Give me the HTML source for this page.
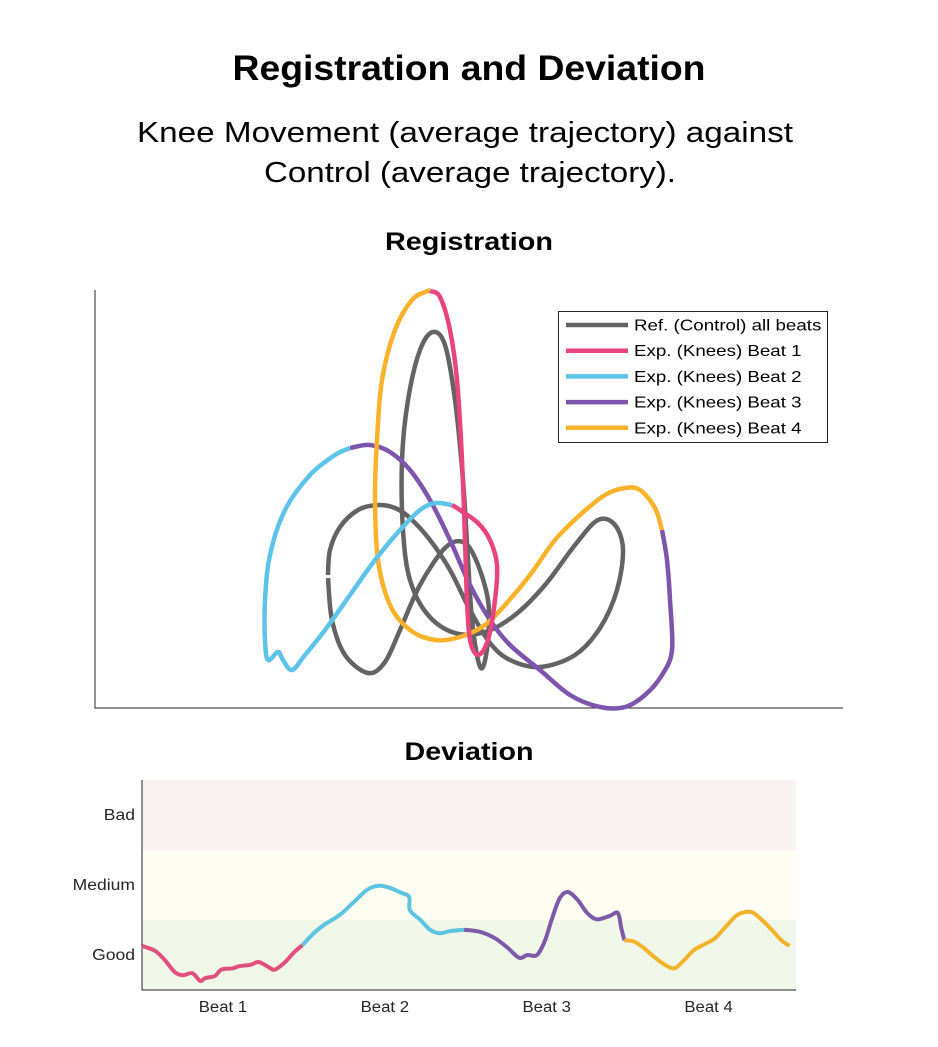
<!DOCTYPE html>
<html><head><meta charset="utf-8"><style>
body{margin:0;background:#fff;font-family:"Liberation Sans",sans-serif}
svg text{font-family:"Liberation Sans",sans-serif}
</style></head><body>
<svg id="c" width="938" height="1042" viewBox="0 0 938 1042" xmlns="http://www.w3.org/2000/svg">
<text x="469" y="80" text-anchor="middle" font-size="35" font-weight="bold" textLength="473" lengthAdjust="spacingAndGlyphs">Registration and Deviation</text>
<text x="465" y="142" text-anchor="middle" font-size="29" textLength="656" lengthAdjust="spacingAndGlyphs">Knee Movement (average trajectory) against</text>
<text x="470" y="182" text-anchor="middle" font-size="29" textLength="412" lengthAdjust="spacingAndGlyphs">Control (average trajectory).</text>
<text x="469" y="250" text-anchor="middle" font-size="25" font-weight="bold" textLength="168" lengthAdjust="spacingAndGlyphs">Registration</text>
<text x="469" y="760" text-anchor="middle" font-size="25" font-weight="bold" textLength="129" lengthAdjust="spacingAndGlyphs">Deviation</text>
<g id="reg"></g>
<g id="dev"></g>
</svg>
<script>
// Registration trajectories (arbitrary data units)
const refX=[233,237,250,273,290,305,325,350,368,381,393,393,388,383,377,373,368,360,350,338,325,313,307,308,315,333,360,390,420,450,480,503,520,528,522,505,480,445,415,395,375,355,335,315,300,283,263,245,235,233];
const refY=[130,88,53,35,46,78,123,160,166,148,108,68,41,48,88,148,228,308,363,376,358,308,248,178,128,93,75,76,93,123,163,188,183,158,118,80,53,41,48,65,98,138,168,190,200,203,198,181,158,133];
const b1X=[335,345,355,362,367,370,372,375,383,393,400,402,395,383,365,357];
const b1Y=[417,411,378,328,248,168,108,68,53,68,108,143,168,185,198,203];
const b2X=[357,340,325,305,280,255,230,210,197,188,183,173,170,170,175,190,215,240,255];
const b2Y=[203,205,198,178,148,113,78,53,38,48,56,48,68,108,153,198,233,253,260];
const b3X=[255,275,295,315,335,355,375,395,415,445,475,505,530,550,567,577,575,572,567];
const b3Y=[260,263,256,238,208,168,123,88,63,38,13,1,1,13,33,58,108,148,178];
const b4X=[567,560,545,530,510,485,460,435,410,390,365,340,315,295,283,280,282,287,300,317,333,335];
const b4Y=[178,200,218,220,213,193,168,133,103,83,71,68,78,103,148,208,268,328,378,408,417,417];
const colRef="#636363",c1="#e8457f",c2="#5ec3e8",c3="#7d55ad",c4="#fbb22b";

// Deviation data (x in beats, y in deviation units 0..3)
const devX1=[0,.08,.14,.20,.25,.31,.36,.39,.45,.49,.56,.60,.67,.72,.78,.82,.88,.94,.99];
const devY1=[.63,.56,.43,.26,.21,.24,.13,.17,.2,.29,.31,.34,.36,.4,.33,.29,.39,.54,.64];
const devX2=[.99,1.07,1.13,1.22,1.31,1.39,1.46,1.53,1.60,1.65,1.655,1.72,1.78,1.84,1.90,1.99];
const devY2=[.64,.83,.94,1.07,1.26,1.43,1.49,1.46,1.39,1.33,1.14,1.0,.86,.81,.84,.86];
const devX3=[1.99,2.09,2.18,2.26,2.33,2.38,2.44,2.49,2.53,2.58,2.63,2.69,2.75,2.81,2.89,2.94,2.96,2.98];
const devY3=[.86,.83,.74,.6,.46,.5,.5,.71,1.0,1.31,1.4,1.29,1.1,1.01,1.06,1.1,.89,.71];
const devX4=[2.98,3.04,3.10,3.17,3.23,3.29,3.35,3.41,3.48,3.54,3.60,3.67,3.72,3.77,3.83,3.89,3.95,4.0];
const devY4=[.71,.69,.6,.46,.36,.31,.43,.57,.66,.74,.89,1.06,1.11,1.11,1.0,.86,.71,.63];
const bandNames=["Good","Medium","Bad"];
const beatLabels=["Beat 1","Beat 2","Beat 3","Beat 4"];
const legendLabels=["Ref. (Control) all beats","Exp. (Knees) Beat 1","Exp. (Knees) Beat 2","Exp. (Knees) Beat 3","Exp. (Knees) Beat 4"];

const NS="http://www.w3.org/2000/svg";
function mk(p,t,a){const e=document.createElementNS(NS,t);for(const k in a)e.setAttribute(k,a[k]);p.appendChild(e);return e;}
function stretch(t,f){const w=t.getComputedTextLength();t.setAttribute('textLength',(w*f).toFixed(1));t.setAttribute('lengthAdjust','spacingAndGlyphs');}
function smooth(xs,ys,sx,sy){const P=xs.map((x,i)=>[sx(x),sy(ys[i])]);let d="M"+P[0][0].toFixed(1)+","+P[0][1].toFixed(1);
for(let i=0;i<P.length-1;i++){const p0=P[Math.max(i-1,0)],p1=P[i],p2=P[i+1],p3=P[Math.min(i+2,P.length-1)];
const c1=[p1[0]+(p2[0]-p0[0])/6,p1[1]+(p2[1]-p0[1])/6],c2=[p2[0]-(p3[0]-p1[0])/6,p2[1]-(p3[1]-p1[1])/6];
d+=" C"+c1.map(v=>v.toFixed(1))+" "+c2.map(v=>v.toFixed(1))+" "+p2.map(v=>v.toFixed(1));}return d;}

// Registration axes
const reg=document.getElementById('reg');
const rx=v=>95+v, ry=v=>708-v;
let ax=mk(reg,'path',{d:'M95,290 V708 H843',fill:'none',stroke:'#262626','stroke-width':1});


const series=[[refX,refY,colRef,'reference-trajectory'],[b3X,b3Y,c3,'beat-3-trajectory'],[b4X,b4Y,c4,'beat-4-trajectory'],[b2X,b2Y,c2,'beat-2-trajectory'],[b1X,b1Y,c1,'beat-1-trajectory']];
series.forEach(s=>{const p=mk(reg,'path',{d:smooth(s[0],s[1],rx,ry),fill:'none',stroke:s[2],'stroke-width':4.5,'stroke-linejoin':'round'});

});
// legend
const lg=mk(reg,'g',{});


mk(lg,'rect',{x:558.5,y:311.5,width:269,height:131,fill:'#fff',stroke:'#262626','stroke-width':1});
const lcols=[colRef,c1,c2,c3,c4];
legendLabels.forEach((t,i)=>{const y=325+i*25.7;
const g=mk(lg,'g',{});


mk(g,'line',{x1:566,x2:628,y1:y,y2:y,stroke:lcols[i],'stroke-width':4.5});
const tx=mk(g,'text',{x:634,y:y+5.5,'font-size':16,fill:'#000'});tx.textContent=t;stretch(tx,1.17);});

// Deviation
const dev=document.getElementById('dev');
const X0=142,X1=796,Y0=990,Y1=780;
const dx=v=>X0+v*(X1-X0)/4.04, dy=v=>Y0-v*(Y0-Y1)/3;
const bandCols=["#f0f6e8","#fefdf2","#faf1f2"];
bandNames.forEach((n,i)=>{const r=mk(dev,'rect',{x:X0,y:dy(i+1),width:X1-X0,height:dy(i)-dy(i+1),fill:bandCols[i]});


const t=mk(dev,'text',{x:135,y:dy(i+0.5)+5,'text-anchor':'end','font-size':15.5,fill:'#262626'});t.textContent=n;stretch(t,1.13);

});
const dax=mk(dev,'path',{d:`M${X0},${Y1} V${Y0} H${X1}`,fill:'none',stroke:'#262626','stroke-width':1});


beatLabels.forEach((b,i)=>{const t=mk(dev,'text',{x:dx(i+0.5),y:1012,'text-anchor':'middle','font-size':15.5,fill:'#262626'});t.textContent=b;stretch(t,1.08);

});
const dcols=["#e0507f","#5ec3e0","#7d5aa8","#f1b32b"];
[[devX1,devY1],[devX2,devY2],[devX3,devY3],[devX4,devY4]].forEach((s,i)=>{const p=mk(dev,'path',{d:smooth(s[0],s[1],dx,dy),fill:'none',stroke:dcols[i],'stroke-width':4,'stroke-linejoin':'round'});

});
</script>
</body></html>
